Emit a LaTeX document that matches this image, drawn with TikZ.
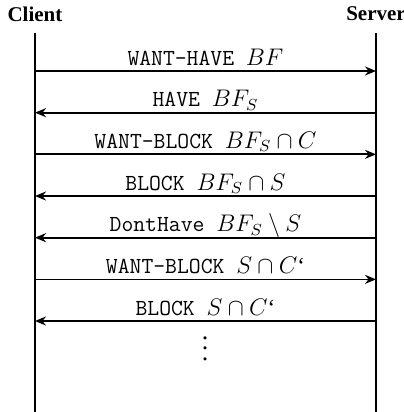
\documentclass[tikz,border=0pt]{standalone}
\usepackage{fontspec}
\setmainfont{Liberation Serif}
\usetikzlibrary{arrows.meta}
\tikzset{%
	party/.style={
		font=\bfseries\fontsize{10.5}{12}\selectfont,
		inner sep=0pt
	},
	lifeline/.style={
		line width=1.1pt
	},
	message/.style={
		line width=0.85pt,
		-{Stealth[length=5.5pt,width=4.5pt]}
	},
	message label/.style={
		font=\ttfamily\fontsize{11.5}{13}\selectfont,
		anchor=base,
		inner sep=0pt
	},
}

\begin{document}
\begin{tikzpicture}[x=0.5pt,y=-0.5pt]
	% Define the horizontal position of both lifelines
	\newcommand{\clientX}{35}
	\newcommand{\serverX}{376}
	% Define the vertical distance between two messages
	\newcommand{\msgGap}{41.67}
	
	\useasboundingbox (0,0) rectangle (403,412);
	
	% Parties and their lifelines
	\node[party] (client) at (\clientX,14) {Client};
	\node[party] (server) at (\serverX,14) {Server};
	\coordinate (clientTop) at (\clientX,33);
	\coordinate (clientEnd) at (\clientX,412);
	\coordinate (serverTop) at (\serverX,33);
	\coordinate (serverEnd) at (\serverX,412);
	\draw[lifeline] (clientTop) -- (clientEnd);
	\draw[lifeline] (serverTop) -- (serverEnd);
	
	% Loop through the messages, r goes to the server and l goes back to the client
	\foreach \dir/\txt [count=\i] in {r/{WANT-HAVE $BF$},l/{HAVE $BF_S$},r/{WANT-BLOCK $BF_S\cap C$},l/{BLOCK $BF_S\cap S$},l/{DontHave $BF_S\setminus S$},r/{WANT-BLOCK $S\cap C$\textrm{‘}},l/{BLOCK $S\cap C$\textrm{‘}}} {
		\coordinate (c\i) at (\clientX,{71+(\i-1)*\msgGap});
		\coordinate (s\i) at (\serverX,{71+(\i-1)*\msgGap});
		\if\dir r
		\draw[message] (c\i) -- (s\i);
		\else
		\draw[message] (s\i) -- (c\i);
		\fi
		\node[message label] (m\i) at ({(\clientX+\serverX)/2},{65+(\i-1)*\msgGap}) {\txt};
	}
	
	% More messages follow
	\node[scale=1.3] (more) at (205,341) {$\vdots$};
\end{tikzpicture}
\end{document}
